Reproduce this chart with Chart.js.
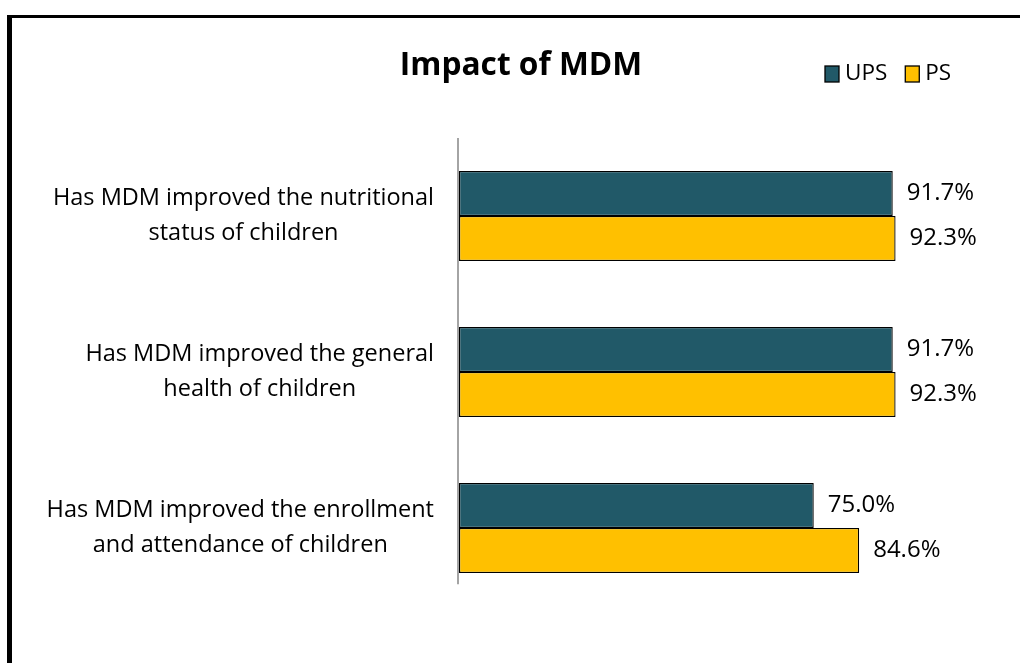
<!DOCTYPE html>
<html>
<head>
<meta charset="utf-8">
<script src="https://cdn.jsdelivr.net/npm/chart.js@4"></script>
<style>
html,body{margin:0;padding:0;background:#fff;}
#wrap{width:1020px;height:663px;position:relative;}
</style>
</head>
<body>
<div id="wrap"><canvas id="c" width="1020" height="663"></canvas></div>
<script>
const chartTitle = "Impact of MDM";
const categories = [
  ["Has MDM improved the nutritional", "status of children"],
  ["Has MDM improved the general", "health of children"],
  ["Has MDM improved the enrollment", "and attendance of children"]
];
const seriesNames = ["UPS", "PS"];
const upsValues = [91.7, 91.7, 75.0];
const psValues = [92.3, 92.3, 84.6];
const seriesColors = ["#215968", "#FFC000"];

const FONT = "'Open Sans', 'Noto Sans', sans-serif";

const decor = {
  id: 'decor',
  afterDraw(chart) {
    const ctx = chart.ctx;
    const area = chart.chartArea;
    const y = chart.scales.y;
    ctx.save();
    // frame
    ctx.fillStyle = '#000';
    ctx.fillRect(7, 15, 5, 663);
    ctx.fillRect(7, 15, 1020, 3);
    // axis line
    const band = y.getPixelForValue(1) - y.getPixelForValue(0);
    const lastBottom = y.getPixelForValue(categories.length - 1) + band * 0.36;
    ctx.strokeStyle = '#868686';
    ctx.lineWidth = 1.5;
    ctx.beginPath();
    ctx.moveTo(area.left - 1, area.top);
    ctx.lineTo(area.left - 1, lastBottom);
    ctx.stroke();
    // category labels
    ctx.fillStyle = '#000';
    ctx.font = "23.5px " + FONT;
    ctx.textBaseline = 'middle';
    ctx.textAlign = 'center';
    const rightEdge = area.left - 25;
    categories.forEach((lines, i) => {
      const cy = y.getPixelForValue(i);
      const w = Math.max(...lines.map(l => ctx.measureText(l).width));
      const cx = rightEdge - w / 2;
      const lh = 35;
      lines.forEach((l, k) => {
        ctx.fillText(l, cx, cy + (k - (lines.length - 1) / 2) * lh);
      });
    });
    // data labels
    ctx.textAlign = 'left';
    ctx.font = "24px " + FONT;
    chart.data.datasets.forEach((ds, di) => {
      const meta = chart.getDatasetMeta(di);
      meta.data.forEach((bar, i) => {
        ctx.fillText(ds.data[i].toFixed(1) + '%', bar.x + 14, bar.y);
      });
    });
    // title
    ctx.font = "bold 31.7px " + FONT;
    ctx.textAlign = 'center';
    ctx.textBaseline = 'alphabetic';
    ctx.fillText(chartTitle, 521, 75);
    // legend
    ctx.font = "22.5px " + FONT;
    ctx.textAlign = 'left';
    ctx.textBaseline = 'middle';
    let lx = 825;
    const ly = 74;
    chart.data.datasets.forEach((ds) => {
      ctx.fillStyle = ds.backgroundColor;
      ctx.fillRect(lx, ly - 8, 14, 16);
      ctx.strokeStyle = '#000';
      ctx.lineWidth = 1.3;
      ctx.strokeRect(lx, ly - 8, 14, 16);
      ctx.fillStyle = '#000';
      ctx.fillText(ds.label, lx + 20, ly);
      lx += 20 + ctx.measureText(ds.label).width + 18;
    });
    ctx.restore();
  }
};

new Chart(document.getElementById('c'), {
  type: 'bar',
  data: {
    labels: categories,
    datasets: [
      { label: seriesNames[0], data: upsValues, backgroundColor: seriesColors[0], borderColor: '#000', borderWidth: 1.3, borderSkipped: false },
      { label: seriesNames[1], data: psValues, backgroundColor: seriesColors[1], borderColor: '#000', borderWidth: 1.3, borderSkipped: false }
    ]
  },
  options: {
    indexAxis: 'y',
    responsive: false,
    animation: false,
    devicePixelRatio: 1,
    layout: { padding: { left: 459, right: 88, top: 138, bottom: 57 } },
    categoryPercentage: 0.577,
    barPercentage: 1.0,
    scales: {
      x: { display: false, min: 0, max: 100 },
      y: { display: false }
    },
    plugins: {
      legend: { display: false },
      title: { display: false },
      tooltip: { enabled: false }
    }
  },
  plugins: [decor]
});
</script>
</body>
</html>
